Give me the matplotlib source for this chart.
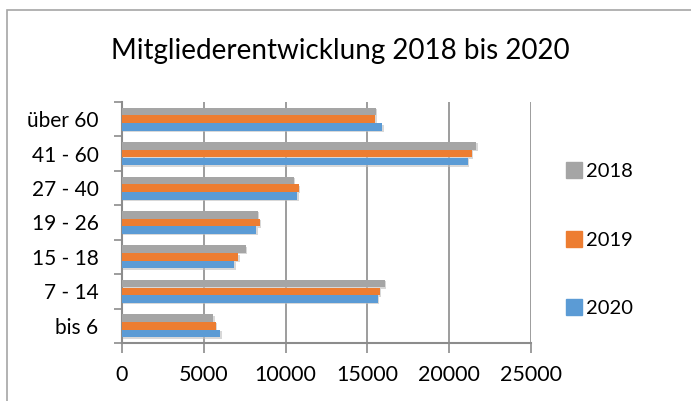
import numpy as np
import matplotlib
matplotlib.use("Agg")
import matplotlib.pyplot as plt
from matplotlib.lines import Line2D
from matplotlib.patches import Rectangle
import matplotlib.patheffects as pe

plt.rcParams['font.family'] = ['Lato', 'DejaVu Sans']

# Daten (von unten nach oben)
kategorien = ['bis 6', '7 - 14', '15 - 18', '19 - 26', '27 - 40', '41 - 60', 'über 60']
werte_2018 = [5570, 16070, 7550, 8300, 10520, 21650, 15500]
werte_2019 = [5730, 15740, 7120, 8440, 10790, 21370, 15480]
werte_2020 = [6000, 15620, 6870, 8220, 10710, 21150, 15910]
jahre = ['2018', '2019', '2020']
farben = ['#A5A5A5', '#ED7D31', '#5B9BD5']

fig = plt.figure(figsize=(6.91, 4.01), dpi=100)
ax = fig.add_axes([122/691, 1-343/401, (531-122)/691, (343-102)/401])

# Rahmen um das Diagramm
fig.patches.append(Rectangle((7/691, -0.05), 1.2, 1-10/401+0.05, transform=fig.transFigure,
                             fill=False, edgecolor='#a6a6a6', linewidth=1.2))

y = np.arange(len(kategorien))
h = 0.22
versatz = [0.225, 0, -0.225]
schatten = [pe.SimplePatchShadow(offset=(1, -1), shadow_rgbFace='#bfbfbf', alpha=0.6), pe.Normal()]
for werte, jahr, farbe, dy in zip([werte_2018, werte_2019, werte_2020], jahre, farben, versatz):
    bars = ax.barh(y + dy, werte, height=h, color=farbe, zorder=3)
    for b in bars:
        b.set_path_effects(schatten)

ax.set_xlim(0, 25000)
ax.set_ylim(-0.5, 6.5)
ax.set_xticks([0, 5000, 10000, 15000, 20000, 25000])
ax.set_xticklabels(['0', '5000', '10000', '15000', '20000', '25000'], fontsize=15.5)
ax.set_yticks(np.arange(-0.5, 7, 1))
ax.set_yticklabels([])
ax.set_yticks(y, minor=True)
ax.set_yticklabels(kategorien, minor=True, fontsize=15)
ax.tick_params(axis='y', which='minor', length=0, pad=17)
ax.tick_params(axis='y', which='major', length=6, color='#8c8c8c', width=1.2)
ax.tick_params(axis='x', length=7, color='#8c8c8c', width=1.2, pad=9)
ax.grid(axis='x', color='#8c8c8c', linewidth=1.2, zorder=0)
for s in ['top', 'right']:
    ax.spines[s].set_visible(False)
for s in ['left', 'bottom']:
    ax.spines[s].set_color('#8c8c8c')
    ax.spines[s].set_linewidth(1.5)

fig.text(340/691, 1-51/401, 'Mitgliederentwicklung 2018 bis 2020', ha='center', va='center', fontsize=20)

handles = [Line2D([], [], marker='s', linestyle='none', markersize=11, color=c) for c in farben]
fig.legend(handles, jahre, loc='center left', bbox_to_anchor=(546/691, 1-240/401), frameon=False,
           fontsize=14.5, labelspacing=2.55, handletextpad=0.1, handlelength=1.0)

fig.savefig('out.png', dpi=100)
